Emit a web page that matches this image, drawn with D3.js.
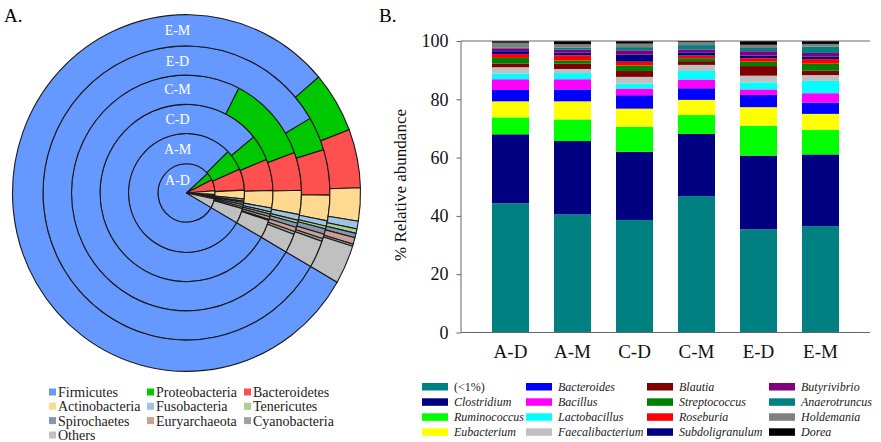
<!DOCTYPE html>
<html>
<head>
<meta charset="utf-8">
<script src="https://cdn.jsdelivr.net/npm/d3@7"></script>
<style>
  html, body { margin: 0; padding: 0; background: #fff; }
  svg { display: block; }
</style>
</head>
<body>
<svg id="chart" width="881" height="442"></svg>
<script>
// ---------- DATA: panel A (phyla, % per ring) ----------
const phyla = ["Firmicutes","Proteobacteria","Bacteroidetes","Actinobacteria","Fusobacteria","Tenericutes","Spirochaetes","Euryarchaeota","Cyanobacteria","Others"];
const phylaColors = ["#6699FF","#00C800","#FF5050","#FFD98F","#9DC3E6","#A9D18E","#8497B0","#C9A091","#A0A0A0","#C0C0C0"];
const ringLabels = ["A-D","A-M","C-D","C-M","E-D","E-M"];
const ringAD = [80.0, 4.2, 6.2, 2.1, 0.6, 0.3, 0.6, 0.6, 0.4, 5.0];
const ringAM = [79.4, 5.7, 5.8, 2.4, 0.6, 0.3, 0.6, 0.6, 0.5, 4.1];
const ringCD = [80.8, 4.7, 5.7, 3.2, 0.7, 0.4, 0.5, 0.5, 0.2, 3.3];
const ringCM = [74.2, 11.9, 5.2, 3.3, 0.8, 0.4, 0.6, 0.6, 0.4, 2.6];
const ringED = [83.2, 3.7, 5.0, 2.8, 0.6, 0.3, 0.6, 0.5, 0.3, 3.0];
const ringEM = [80.4, 5.5, 5.3, 3.0, 0.7, 0.4, 0.4, 0.6, 0.2, 3.5];

// ---------- DATA: panel B (genera, % relative abundance) ----------
const samples = ["A-D","A-M","C-D","C-M","E-D","E-M"];
const genera = ["(<1%)","Clostridium","Ruminococcus","Eubacterium","Bacteroides","Bacillus","Lactobacillus","Faecalibacterium","Blautia","Streptococcus","Roseburia","Subdoligranulum","Butyrivibrio","Anaerotruncus","Holdemania","Dorea"];
const generaColors = ["#008080","#000080","#00FF00","#FFFF00","#0000FF","#FF00FF","#00FFFF","#C0C0C0","#800000","#008000","#FF0000","#000080","#800080","#008080","#808080","#000000"];
const barAD = [44.3, 23.7, 5.8, 5.5, 3.9, 3.7, 2.0, 2.1, 1.3, 1.9, 1.3, 1.0, 1.0, 0.3, 1.6, 0.6];
const barAM = [40.5, 25.2, 7.4, 6.2, 4.1, 3.5, 2.1, 1.4, 1.8, 1.1, 1.8, 0.9, 1.0, 0.7, 1.2, 1.1];
const barCD = [38.6, 23.4, 8.6, 6.2, 4.6, 2.3, 1.7, 2.3, 2.0, 1.9, 1.3, 2.5, 1.4, 1.1, 1.2, 0.9];
const barCM = [46.8, 21.3, 6.5, 5.2, 4.0, 3.0, 2.9, 2.1, 1.3, 1.0, 0.9, 1.1, 1.0, 1.5, 1.0, 0.4];
const barED = [35.4, 25.3, 10.2, 6.4, 4.2, 1.9, 2.4, 2.3, 3.3, 1.5, 1.2, 0.9, 1.5, 1.1, 1.1, 1.3];
const barEM = [36.5, 24.6, 8.4, 5.5, 3.9, 3.2, 4.2, 2.0, 1.5, 2.4, 1.6, 0.9, 1.2, 2.2, 0.9, 1.0];
const yTicks = [0, 20, 40, 60, 80, 100];

const FONT = '"Liberation Serif", "Times New Roman", serif';
const svg = d3.select("#chart");

// ================= PANEL A =================
const rings = [ringAD, ringAM, ringCD, ringCM, ringED, ringEM];
const ringEdges = [0, 28.5, 58, 86.5, 115, 143.5, 174];
const labelR = [13, 43, 72, 101, 129, 159];
const cx = 186.5, cy = 193, sy = 1.025;

svg.append("text").attr("x", 4).attr("y", 22).style("font-family", FONT).attr("font-size", 19).text("A.");

const gA = svg.append("g").attr("transform", `translate(${cx},${cy}) scale(1,${sy})`);
const pie = d3.pie().sort(null).value(d => d)
  .startAngle(2 * Math.PI / 3).endAngle(2 * Math.PI / 3 + 2 * Math.PI);

rings.forEach((vals, ri) => {
  const arc = d3.arc().innerRadius(ringEdges[ri]).outerRadius(ringEdges[ri + 1]);
  gA.append("g").selectAll("path").data(pie(vals)).join("path")
    .attr("d", arc)
    .attr("fill", (d, i) => phylaColors[i])
    .attr("stroke", "#1a1a1a")
    .attr("stroke-width", 1.1)
    .attr("vector-effect", "non-scaling-stroke");
});
ringLabels.forEach((lab, ri) => {
  svg.append("text")
    .attr("x", cx - 9).attr("y", cy - labelR[ri] * sy)
    .attr("dy", "0.35em")
    .attr("text-anchor", "middle")
    .style("font-family", FONT)
    .attr("font-size", 14)
    .attr("fill", "#ffffff")
    .text(lab);
});

// legend A
const legA = svg.append("g");
const legAx = [49, 147, 244], legAy = [392, 406.3, 420.6, 435];
phyla.forEach((p, i) => {
  const c = i % 3, r = Math.floor(i / 3);
  legA.append("rect").attr("x", legAx[c]).attr("y", legAy[r] - 3.5)
    .attr("width", 7).attr("height", 7).attr("fill", phylaColors[i]);
  legA.append("text").attr("x", legAx[c] + 9).attr("y", legAy[r]).attr("dy", "0.35em")
    .style("font-family", FONT)
    .attr("font-size", 14).attr("fill", "#222").text(p);
});

// ================= PANEL B =================
svg.append("text").attr("x", 379).attr("y", 22).style("font-family", FONT).attr("font-size", 19).text("B.");

const x0 = 461, x1 = 870, yTop = 41, yBot = 332.5;
const x = d3.scaleBand().domain(samples).range([x0, x1]).paddingInner(0.403).paddingOuter(0.5);
const y = d3.scaleLinear().domain([0, 100]).range([yBot, yTop]);

const bars = [barAD, barAM, barCD, barCM, barED, barEM];
const gB = svg.append("g");
bars.forEach((vals, si) => {
  let acc = 0;
  const segs = vals.map((v, gi) => { const s = { y0: acc, y1: acc + v, gi }; acc += v; return s; });
  gB.append("g").selectAll("rect").data(segs).join("rect")
    .attr("x", x(samples[si]))
    .attr("width", x.bandwidth())
    .attr("y", d => y(Math.min(d.y1, 100)))
    .attr("height", d => y(d.y0) - y(Math.min(d.y1, 100)))
    .attr("fill", d => generaColors[d.gi]);
});

// axes
const axisColor = "#666";
const yAxis = svg.append("g").attr("transform", `translate(${x0},0)`)
  .call(d3.axisLeft(y).tickValues(yTicks).tickSize(4.5).tickPadding(8).tickFormat(d3.format("d")));
yAxis.select(".domain").attr("stroke", axisColor).attr("d", `M0,${yTop}V${yBot}`);
yAxis.selectAll(".tick line").attr("stroke", axisColor);
yAxis.selectAll(".tick text").style("font-family", FONT).attr("font-size", 18).attr("fill", "#111");

const xAxis = svg.append("g").attr("transform", `translate(0,${yBot})`)
  .call(d3.axisBottom(x).tickSize(0).tickPadding(12));
xAxis.select(".domain").attr("stroke", axisColor).attr("d", `M${x0},0H${x1}`);
xAxis.selectAll(".tick text").style("font-family", FONT).attr("font-size", 19).attr("fill", "#111");

svg.append("line").attr("x1", x0).attr("x2", x1).attr("y1", yTop).attr("y2", yTop)
  .attr("stroke", axisColor).attr("stroke-width", 1);

svg.append("text")
  .attr("transform", `translate(406,185) rotate(-90)`)
  .attr("text-anchor", "middle")
  .style("font-family", FONT)
  .attr("font-size", 17).attr("fill", "#111")
  .text("% Relative abundance");

// legend B
const legB = svg.append("g");
const legBx = [422, 526, 647, 769], legBy = [386.7, 402, 417, 432];
genera.forEach((g, i) => {
  const c = Math.floor(i / 4), r = i % 4;
  legB.append("rect").attr("x", legBx[c]).attr("y", legBy[r] - 3.7)
    .attr("width", 26).attr("height", 7.5).attr("fill", generaColors[i]);
  legB.append("text").attr("x", legBx[c] + 32).attr("y", legBy[r]).attr("dy", "0.35em")
    .style("font-family", FONT)
    .attr("font-size", 12).attr("fill", "#222")
    .attr("font-style", i === 0 ? "normal" : "italic")
    .text(g);
});
</script>
</body>
</html>
